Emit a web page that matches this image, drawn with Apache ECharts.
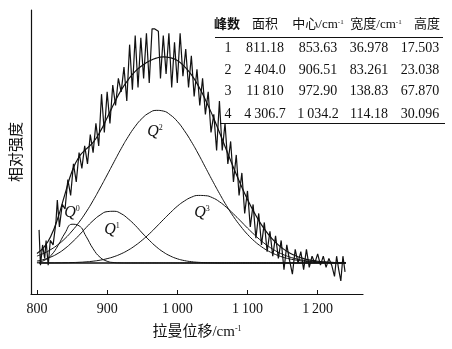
<!DOCTYPE html>
<html>
<head>
<meta charset="utf-8">
<script src="https://cdn.jsdelivr.net/npm/echarts@6/dist/echarts.min.js"></script>
<style>
  html, body { margin: 0; padding: 0; background: #fff; }
  #main { width: 452px; height: 349px; }
</style>
</head>
<body>
<div id="main"></div>
<script>
// 拉曼位移 grid for the fitted curves
const shift = [800, 810, 820, 830, 840, 850, 860, 870, 880, 890,
  900, 910, 920, 930, 940, 950, 960, 970, 980, 990,
  1000, 1010, 1020, 1030, 1040, 1050, 1060, 1070, 1080, 1090,
  1100, 1110, 1120, 1130, 1140, 1150, 1160, 1170, 1180, 1190,
  1200, 1210, 1220, 1230, 1240]

// fitted peaks
const q0 = [0.26, 1.08, 3.35, 7.73, 13.3, 17.2, 16.5, 11.8, 6.3, 2.5,
  0.75, 0.17, 0.03, 0, 0, 0, 0, 0, 0, 0,
  0, 0, 0, 0, 0, 0, 0, 0, 0, 0,
  0, 0, 0, 0, 0, 0, 0, 0, 0, 0,
  0, 0, 0, 0, 0]
const q1 = [0.87, 1.57, 2.66, 4.26, 6.43, 9.17, 12.3, 15.7, 18.8, 21.3,
  22.8, 22.96, 21.9, 19.6, 16.7, 13.3, 10.1, 7.2, 4.85, 3.09,
  1.85, 1.05, 0.56, 0.28, 0.13, 0.06, 0, 0, 0, 0,
  0, 0, 0, 0, 0, 0, 0, 0, 0, 0,
  0, 0, 0, 0, 0]
const q2 = [3.05, 4.32, 6.0, 8.15, 10.85, 14.2, 18.1, 22.6, 27.7, 33.3,
  39.1, 45.0, 50.8, 56.1, 60.7, 64.3, 66.7, 67.8, 67.5, 65.8,
  62.9, 58.8, 53.9, 48.4, 42.5, 36.6, 30.9, 25.5, 20.6, 16.4,
  12.7, 9.65, 7.2, 5.24, 3.75, 2.62, 1.8, 1.21, 0.79, 0.51,
  0.32, 0.2, 0.12, 0.07, 0.04]
const q3 = [0.01, 0.02, 0.03, 0.05, 0.09, 0.17, 0.29, 0.48, 0.78, 1.24,
  1.9, 2.82, 4.07, 5.69, 7.72, 10.14, 12.9, 16.0, 19.2, 22.3,
  25.2, 27.5, 29.2, 30.0, 29.9, 29.0, 27.2, 24.7, 21.8, 18.7,
  15.5, 12.5, 9.73, 7.36, 5.4, 3.85, 2.65, 1.78, 1.15, 0.73,
  0.44, 0.26, 0.15, 0.08, 0.05]
const fit = [4.19, 6.98, 12.04, 20.19, 30.67, 40.74, 47.19, 50.58, 53.58, 58.34,
  64.55, 70.95, 76.8, 81.39, 85.12, 87.74, 89.7, 91.0, 91.55, 91.19,
  89.95, 87.35, 83.66, 78.68, 72.53, 65.66, 58.1, 50.2, 42.4, 35.1,
  28.2, 22.15, 16.93, 12.6, 9.15, 6.47, 4.45, 2.99, 1.94, 1.24,
  0.76, 0.46, 0.27, 0.15, 0.09]

// measured spectrum [shift, intensity]
const spectrum = [
  [803, 14.7], [805, -1], [808, 8], [811, 2], [813, 10], [816, -1], [819, 10], [823, 8],
  [827, 18], [829, 28], [832, 16], [836, 26], [840, 24], [844, 37], [848, 30], [852, 44],
  [856, 36], [860, 49], [864, 42], [868, 52], [872, 44], [876, 57], [880, 49], [884, 62],
  [888, 52], [892, 75], [896, 58], [900, 76], [904, 62], [908, 79], [912, 70], [916, 82],
  [920, 76], [924, 87], [928, 72], [932, 97], [936, 77], [940, 101], [944, 78], [948, 100],
  [952, 82], [956, 102], [960, 80], [964, 104], [968, 104], [973, 103], [976, 82], [980, 101],
  [984, 84], [988, 102], [992, 78], [996, 98], [1000, 80], [1004, 102], [1008, 83], [1012, 95],
  [1016, 78], [1020, 92], [1024, 74], [1028, 86], [1032, 70], [1036, 82], [1040, 66], [1044, 76],
  [1048, 58], [1052, 66], [1056, 50], [1060, 72], [1064, 50], [1068, 62], [1072, 44], [1076, 54],
  [1080, 36], [1084, 48], [1088, 30], [1092, 40], [1096, 22], [1100, 32], [1104, 16], [1108, 26],
  [1112, 11], [1116, 22], [1120, 8], [1124, 18], [1128, 5], [1132, 14], [1136, 3], [1140, 12],
  [1144, 2], [1148, 10], [1152, -3], [1156, 8], [1160, 1], [1164, -5], [1168, 6], [1172, 0],
  [1176, 5], [1180, -3], [1184, 6], [1188, -2], [1192, 3], [1196, 0], [1200, 4], [1204, -1],
  [1208, 3], [1212, -2], [1216, 2], [1220, -1], [1224, -6], [1227, 3], [1230, -3], [1233, -8],
  [1236, 3], [1239, -4]
]

const baseline = [[803, 0], [1240, 0]]
const xTicks = [800, 900, 1000, 1100, 1200]

// table (峰数, 面积, 中心, 宽度, 高度)
const tableHead = ['峰数', '面积', '中心/cm{s|-1}', '宽度/cm{s|-1}', '高度']
const tableRows = [
  ['1', '811.18', '853.63', '36.978', '17.503'],
  ['2', '2\u2009404.0', '906.51', '83.261', '23.038'],
  ['3', '11\u2009810', '972.90', '138.83', '67.870'],
  ['4', '4\u2009306.7', '1\u2009034.2', '114.18', '30.096']
]
const peakLabels = [
  { q: 'Q', sup: '0', x: 72, y: 213 },
  { q: 'Q', sup: '1', x: 112, y: 230 },
  { q: 'Q', sup: '2', x: 155, y: 132 },
  { q: 'Q', sup: '3', x: 202, y: 213 }
]

const serif = '"Liberation Serif", "DejaVu Serif", "Noto Sans CJK SC", serif'
const colX = [227, 265, 318, 376, 427]
const rowY = [48.5, 70, 91.5, 114]
const rowX = [228, 265, 318, 369, 420]

const graphics = []
tableHead.forEach((t, i) => {
  graphics.push({
    type: 'text',
    style: {
      text: t, x: colX[i], y: 25, align: 'center', verticalAlign: 'middle',
      fontSize: 13, fontFamily: serif, fontWeight: i === 0 ? 'bold' : 'normal', fill: '#111',
      rich: { s: { fontSize: 7, fontFamily: serif, verticalAlign: 'top', fill: '#111' } }
    }
  })
})
tableRows.forEach((row, r) => {
  row.forEach((t, i) => {
    graphics.push({
      type: 'text',
      style: { text: t, x: rowX[i], y: rowY[r], align: 'center', verticalAlign: 'middle',
        font: '14px ' + serif, fill: '#111' }
    })
  })
})
graphics.push({ type: 'line', shape: { x1: 215, y1: 37.5, x2: 443, y2: 37.5 }, style: { stroke: '#111', lineWidth: 1.2 } })
graphics.push({ type: 'line', shape: { x1: 220, y1: 123.5, x2: 445, y2: 123.5 }, style: { stroke: '#111', lineWidth: 1.2 } })
peakLabels.forEach(p => {
  graphics.push({
    type: 'text',
    style: {
      text: '{q|' + p.q + '}{s|' + p.sup + '}', x: p.x, y: p.y, align: 'center', verticalAlign: 'middle',
      rich: {
        q: { fontSize: 16, fontStyle: 'italic', fontFamily: serif, fill: '#111' },
        s: { fontSize: 8, fontFamily: serif, verticalAlign: 'top', fill: '#111' }
      }
    }
  })
})

function curve(vals) {
  return shift.map((x, i) => [x, vals[i]])
}
function lineSeries(data, width, smooth) {
  return {
    type: 'line', data: data, smooth: smooth, showSymbol: false, silent: true,
    lineStyle: { color: '#111', width: width }
  }
}

const myChart = echarts.init(document.getElementById('main'))
myChart.setOption({
  animation: false,
  grid: { left: 29, right: 89, top: 10, bottom: 55 },
  xAxis: {
    type: 'value',
    min: 791.5,
    max: 1264.6,
    splitLine: { show: false },
    axisLine: { onZero: false, lineStyle: { color: '#111', width: 1.2 } },
    axisTick: { customValues: xTicks, inside: true, length: 4, lineStyle: { color: '#111' } },
    axisLabel: {
      customValues: xTicks, margin: 8, color: '#111', fontSize: 14, fontFamily: serif,
      formatter: v => v >= 1000 ? Math.floor(v / 1000) + '\u2009' + String(v % 1000).padStart(3, '0') : String(v)
    },
    name: '拉曼位移/cm{s|-1}',
    nameLocation: 'middle',
    nameGap: 31,
    nameTextStyle: {
      color: '#111', fontSize: 15, fontFamily: serif,
      rich: { s: { fontSize: 8, fontFamily: serif, verticalAlign: 'top', color: '#111' } }
    }
  },
  yAxis: {
    type: 'value',
    min: -13.8,
    max: 112.4,
    splitLine: { show: false },
    axisLine: { show: true, lineStyle: { color: '#111', width: 1.2 } },
    axisTick: { show: false },
    axisLabel: { show: false },
    name: '相对强度',
    nameLocation: 'middle',
    nameGap: 8,
    nameTextStyle: { color: '#111', fontSize: 15, fontFamily: '"Noto Sans CJK SC", sans-serif' }
  },
  graphic: graphics,
  series: [
    lineSeries(baseline, 1.5, false),
    lineSeries(curve(q0), 1, true),
    lineSeries(curve(q1), 1, true),
    lineSeries(curve(q2), 1, true),
    lineSeries(curve(q3), 1, true),
    lineSeries(curve(fit), 1.2, true),
    lineSeries(spectrum, 1.2, false)
  ]
})
</script>
</body>
</html>
